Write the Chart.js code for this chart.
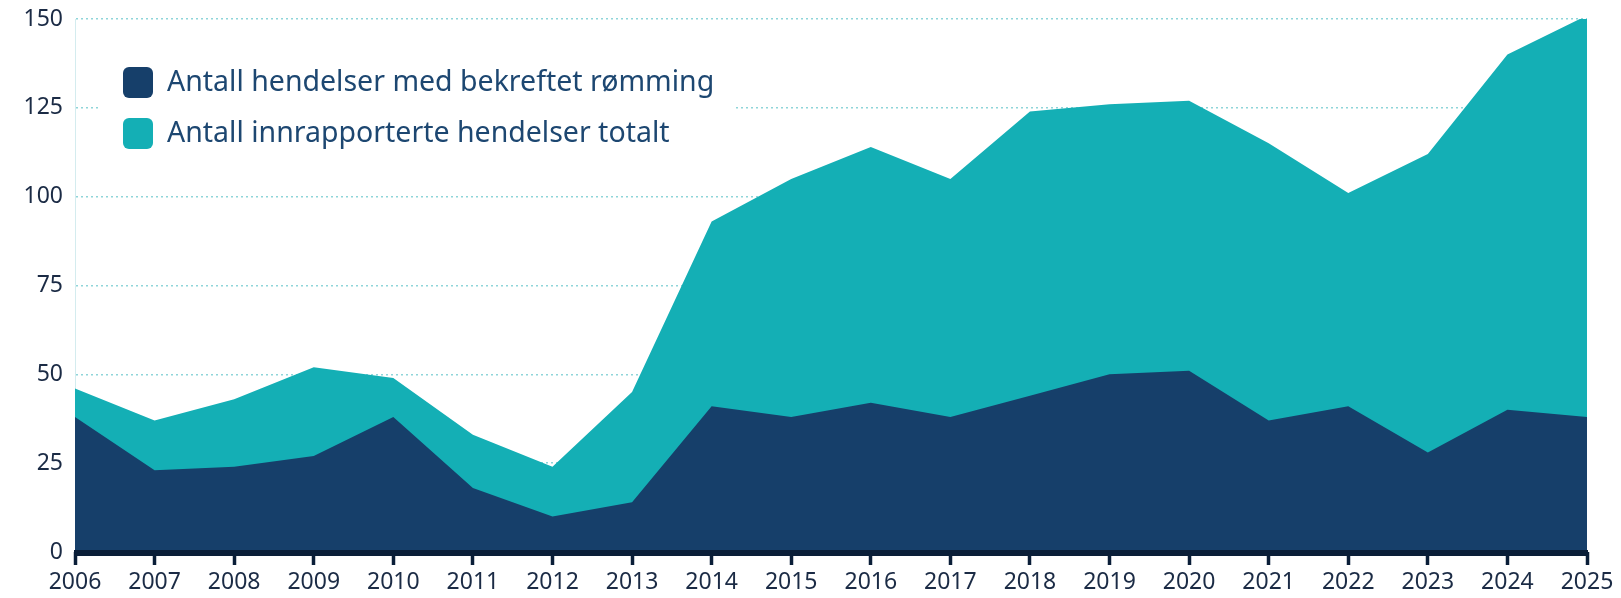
<!DOCTYPE html>
<html>
<head>
<meta charset="utf-8">
<script src="https://cdn.jsdelivr.net/npm/chart.js@4"></script>
<style>
  html, body { margin: 0; padding: 0; background: #ffffff; }
  #wrap { width: 1621px; height: 598px; }
</style>
</head>
<body>
<div id="wrap"><canvas id="myChart"></canvas></div>
<script>
const years = ["2006", "2007", "2008", "2009", "2010", "2011", "2012", "2013", "2014", "2015",
  "2016", "2017", "2018", "2019", "2020", "2021", "2022", "2023", "2024", "2025"];
const rømming = [38, 23, 24, 27, 38, 18, 10, 14, 41, 38, 42, 38, 44, 50, 51, 37, 41, 28, 40, 38];
const totalt = [46, 37, 43, 52, 49, 33, 24, 45, 93, 105, 114, 105, 124, 126, 127, 115, 101, 112, 140, 151];
const yTicks = [0, 25, 50, 75, 100, 125, 150];

const navy = "#163f6a";
const teal = "#14afb5";
const textColor = "#1b2b45";
const axisColor = "#0a1e38";

// legend drawn inside the chart area with a white box behind it
const insideLegend = {
  id: "insideLegend",
  afterDraw(chart) {
    const c = chart.ctx;
    const items = chart.data.datasets;
    c.save();
    c.fillStyle = "#ffffff";
    c.fillRect(98, 52, 637, 112);
    c.font = "28.5px 'Noto Sans'";
    c.textBaseline = "middle";
    items.forEach((ds, i) => {
      const y = 82 + i * 51;
      c.fillStyle = ds.backgroundColor;
      c.beginPath();
      c.roundRect(123, y - 15, 30, 31, 6);
      c.fill();
      c.fillStyle = "#1d4771";
      c.fillText(ds.label, 167, y + 1);
    });
    c.restore();
  },
};

// thick baseline on top of the filled areas
const baseLine = {
  id: "baseLine",
  afterDatasetsDraw(chart) {
    const a = chart.chartArea;
    const c = chart.ctx;
    c.save();
    c.fillStyle = axisColor;
    c.fillRect(a.left - 1, a.bottom - 2, a.right - a.left + 2, 6);
    c.restore();
  },
};

const ctx = document.getElementById("myChart").getContext("2d");

const config = {
  type: "line",
  data: {
    labels: years,
    datasets: [
      {
        label: "Antall hendelser med bekreftet rømming",
        data: rømming,
        backgroundColor: navy,
        borderColor: navy,
        borderWidth: 0,
        pointRadius: 0,
        fill: "origin",
        tension: 0,
      },
      {
        label: "Antall innrapporterte hendelser totalt",
        data: totalt,
        backgroundColor: teal,
        borderColor: teal,
        borderWidth: 0,
        pointRadius: 0,
        fill: "origin",
        tension: 0,
        clip: false,
      },
    ],
  },
  options: {
    responsive: true,
    maintainAspectRatio: false,
    animation: false,
    layout: {
      padding: { top: 19, right: 34, bottom: 0, left: 0 },
    },
    plugins: {
      legend: { display: false },
      tooltip: { enabled: false },
    },
    scales: {
      x: {
        offset: false,
        grid: {
          drawOnChartArea: false,
          tickLength: 13,
          tickWidth: 3.5,
          tickColor: axisColor,
        },
        border: { display: false },
        ticks: {
          color: textColor,
          font: { family: "'Noto Sans'", size: 23 },
          padding: 4,
          maxRotation: 0,
          autoSkip: false,
        },
        afterFit: (scale) => {
          scale.height = 46;
        },
      },
      y: {
        min: 0,
        max: 150,
        afterBuildTicks: (scale) => {
          scale.ticks = yTicks.map((v) => ({ value: v }));
        },
        grid: {
          color: "#8fd5d9",
          lineWidth: 1.5,
          drawTicks: false,
        },
        border: { display: true, color: "#d4ecef", width: 1, dash: [2, 3] },
        ticks: {
          color: textColor,
          font: { family: "'Noto Sans'", size: 23 },
          padding: 12,
        },
        afterFit: (scale) => {
          scale.width = 75;
          scale.paddingTop = 0;
          scale.paddingBottom = 0;
        },
      },
    },
  },
  plugins: [insideLegend, baseLine],
};

const myChart = new Chart(ctx, config);
</script>
</body>
</html>
